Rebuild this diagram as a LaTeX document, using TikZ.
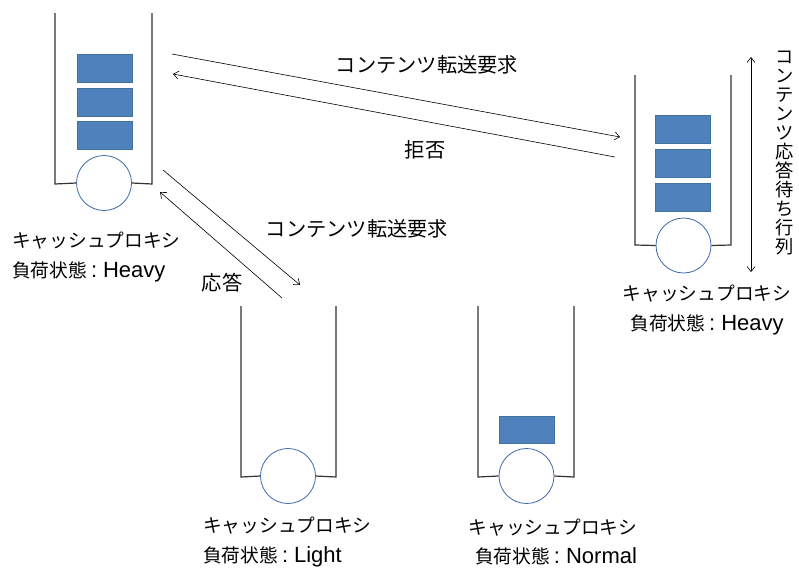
\documentclass[tikz,border=0pt]{standalone}
\usepackage{fontspec}
\setmainfont{Liberation Sans}
\newfontfamily\cjk{Noto Sans CJK JP}[Scale=0.85]
\newcommand{\jtxt}[1]{{\cjk #1}}
\newcommand{\cln}{\kern4pt:\kern6pt}
\usetikzlibrary{arrows.meta}
\definecolor{boxblue}{HTML}{4F81BD}
\definecolor{boxedge}{HTML}{41719C}
\definecolor{ringblue}{HTML}{3D6AA8}
\definecolor{wallgray}{HTML}{333333}
\begin{document}
\begin{tikzpicture}[x=1pt,y=-1pt,
  wall/.style={draw=wallgray,line width=1.2pt},
  item/.style={fill=boxblue,draw=boxedge,line width=0.6pt,minimum width=55pt,minimum height=28pt,inner sep=0pt},
  disk/.style={circle,draw=ringblue,fill=white,line width=0.8pt,minimum size=55pt,inner sep=0pt},
  msg/.style={draw=black,line width=0.6pt,-{Straight Barb[length=5pt,width=8pt]}},
  lbl/.style={font=\fontsize{22}{29.5}\selectfont,inner sep=0pt},
  mlbl/.style={font=\fontsize{23.8}{26}\selectfont,inner sep=0pt}]
\useasboundingbox (0,0) rectangle (799,570);

% top-left proxy (Heavy)
\node[disk] (d1) at (104,183) {};
\draw[wall] (55,13) -- (55,184) -- (d1.west);
\draw[wall] (d1.east) -- (152,184) -- (152,13);
\node[item] (q1a) at (104.5,68) {};
\node[item] (q1b) at (104.5,102) {};
\node[item] (q1c) at (104.5,135.5) {};
\node[lbl,align=left,anchor=west] (l1) at (12,257) {\jtxt{キャッシュプロキシ}\\\jtxt{負荷状態}\cln Heavy};

% right proxy (Heavy)
\node[disk] (d2) at (683.5,245.5) {};
\draw[wall] (635,75) -- (635,245) -- (d2.west);
\draw[wall] (d2.east) -- (731,245) -- (731,75);
\node[item] (q2a) at (682.5,129) {};
\node[item] (q2b) at (682.5,163) {};
\node[item] (q2c) at (682.5,197) {};
\node[lbl,align=center] (l2) at (707,310) {\jtxt{キャッシュプロキシ}\\\jtxt{負荷状態}\cln Heavy};

% bottom proxy (Light)
\node[disk] (d3) at (288,476) {};
\draw[wall] (241,306) -- (241,477) -- (d3.west);
\draw[wall] (d3.east) -- (336,477) -- (336,306);
\node[lbl,align=left,anchor=west] (l3) at (203,542) {\jtxt{キャッシュプロキシ}\\\jtxt{負荷状態}\cln Light};

% bottom proxy (Normal)
\node[disk] (d4) at (526.5,476) {};
\draw[wall] (478,306) -- (478,477) -- (d4.west);
\draw[wall] (d4.east) -- (574,477) -- (574,306);
\node[item,minimum height=27pt] (q4a) at (526.5,429.5) {};
\node[lbl,align=center] (l4) at (553,542) {\jtxt{キャッシュプロキシ}\\\ \jtxt{負荷状態}\cln Normal};

% message arrows
\coordinate (a1s) at (172,54);  \coordinate (a1e) at (620,137);
\coordinate (a2s) at (615,157); \coordinate (a2e) at (173,74);
\coordinate (a3s) at (163,170); \coordinate (a3e) at (300,285);
\coordinate (a4s) at (282,298); \coordinate (a4e) at (160,192);
\draw[msg] (a1s) -- (a1e);
\draw[msg] (a2s) -- (a2e);
\draw[msg] (a3s) -- (a3e);
\draw[msg] (a4s) -- (a4e);
\node[mlbl] (m1) at (427,65) {\jtxt{コンテンツ転送要求}};
\node[mlbl] (m2) at (425,150) {\jtxt{拒否}};
\node[mlbl] (m3) at (357,229) {\jtxt{コンテンツ転送要求}};
\node[mlbl] (m4) at (222,283) {\jtxt{応答}};

% queue length marker
\coordinate (v1) at (751,57); \coordinate (v2) at (751,272);
\draw[draw=black,line width=0.6pt,{Straight Barb[length=5pt,width=8pt]}-{Straight Barb[length=5pt,width=8pt]}] (v1) -- (v2);
\node[inner sep=0pt,align=center,font=\fontsize{21.5}{19}\selectfont] (vt) at (785,153) {\jtxt{コ}\\\jtxt{ン}\\\jtxt{テ}\\\jtxt{ン}\\\jtxt{ツ}\\\jtxt{応}\\\jtxt{答}\\\jtxt{待}\\\jtxt{ち}\\\jtxt{行}\\\jtxt{列}};
\end{tikzpicture}
\end{document}
